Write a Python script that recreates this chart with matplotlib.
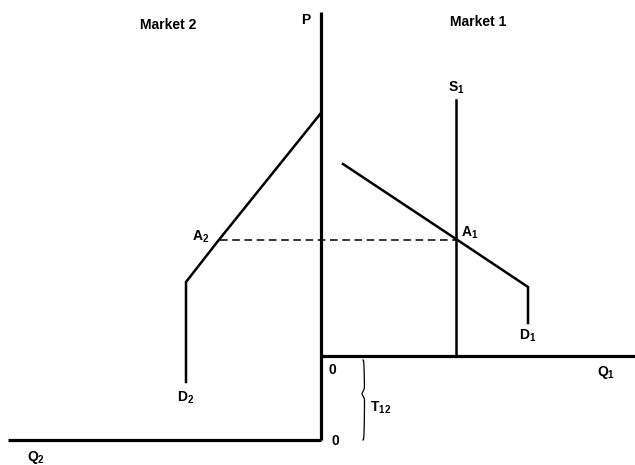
import numpy as np
import matplotlib
matplotlib.use("Agg")
import matplotlib.pyplot as plt

plt.rcParams['font.family'] = ['Liberation Sans', 'DejaVu Sans']
plt.rcParams['mathtext.fontset'] = 'custom'
plt.rcParams['mathtext.rm'] = 'Liberation Sans'
plt.rcParams['mathtext.bf'] = 'Liberation Sans:bold'

# diagram units: x = Q1 (right) / -Q2 (left), y = price above market 1 origin
P_TOP = 344
Q1_MAX = 314
Q2_MAX = 313
T12 = 84                      # transport cost: market 2 origin sits T12 below

S1_X = 135
S1_TOP = 256

D1_Q = [22, 135, 207, 207]
D1_P = [192, 117, 69, 33]

D2_Q = [0, -103, -135, -135]
D2_P = [243, 115, 74, -26]

A_PRICE = 116
A2_Q = -101
A1_Q = 135

fig = plt.figure(figsize=(6.35, 4.65), dpi=100)
ax = fig.add_axes([0, 0, 1, 1])
ax.set_xlim(-321, 314)
ax.set_ylim(-109, 356)
ax.axis('off')

axis_kw = dict(color='black', lw=2.3, solid_capstyle='butt')
curve_kw = dict(color='black', lw=1.8, solid_joinstyle='miter')

# axes
ax.plot([0, 0], [-T12, P_TOP], **axis_kw)
ax.plot([0, Q1_MAX], [0, 0], **axis_kw)
ax.plot([-Q2_MAX, 0], [-T12, -T12], **axis_kw)

# supply and demand
ax.plot([S1_X, S1_X], [0, S1_TOP], **curve_kw)
ax.plot(D1_Q, D1_P, **curve_kw)
ax.plot(D2_Q, D2_P, **curve_kw)
ax.plot([A2_Q, A1_Q], [A_PRICE, A_PRICE], color='black', lw=1.1,
        dashes=(5, 3))

# brace for T12
t = np.linspace(0, 1, 200)
by = -4 + (-T12 + 4) * t
bx = 42 - 2.5 * np.exp(-((t - 0.42) / 0.04) ** 2) + 1.5 * np.sin(np.pi * t) ** 0.3
ax.plot(bx, by, color='black', lw=0.9)

fs = 10
bold = dict(fontsize=fs, fontweight='bold')
ax.text(-153, 331, 'Market 2', ha='center', va='center', **bold)
ax.text(157, 334, 'Market 1', ha='center', va='center', **bold)
ax.text(-15, 336, 'P', ha='center', va='center', **bold)
ax.text(135, 268, r'$\mathbf{S_1}$', ha='center', va='center', fontsize=fs)
ax.text(149, 123, r'$\mathbf{A_1}$', ha='center', va='center', fontsize=fs)
ax.text(-120, 119, r'$\mathbf{A_2}$', ha='center', va='center', fontsize=fs)
ax.text(207, 20, r'$\mathbf{D_1}$', ha='center', va='center', fontsize=fs)
ax.text(-135, -42, r'$\mathbf{D_2}$', ha='center', va='center', fontsize=fs)
ax.text(285, -16, r'$\mathbf{Q_1}$', ha='center', va='center', fontsize=fs)
ax.text(-285, -101, r'$\mathbf{Q_2}$', ha='center', va='center', fontsize=fs)
ax.text(60, -52, r'$\mathbf{T_{12}}$', ha='center', va='center', fontsize=fs)
ax.text(11, -14, '0', ha='center', va='center', **bold)
ax.text(14, -85, '0', ha='center', va='center', **bold)

fig.savefig('out.png', dpi=100)
